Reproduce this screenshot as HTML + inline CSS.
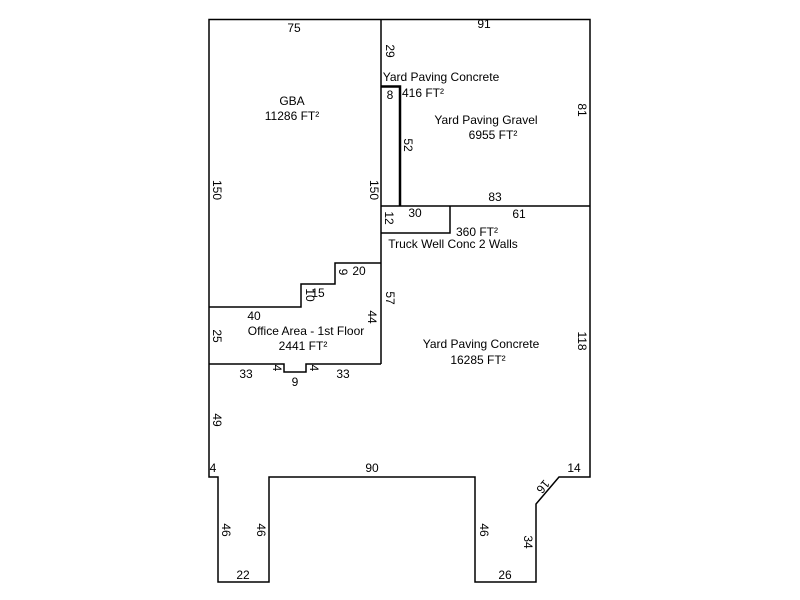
<!DOCTYPE html>
<html><head><style>html,body{margin:0;padding:0;background:#fff}svg{display:block}text{font-family:"Liberation Sans",Arial,sans-serif;font-size:12px;fill:#000}</style></head><body>
<svg width="800" height="600" viewBox="0 0 800 600" xmlns="http://www.w3.org/2000/svg">
<g fill="none" stroke="#000" stroke-width="1.5">
<polygon points="209,19.5 590,19.5 590,477 559,477 536,504 536,582 475,582 475,477 269,477 269,582 218,582 218,477 209,477"/>
<line x1="381" y1="19" x2="381" y2="364"/>
<line x1="381" y1="206" x2="590" y2="206"/>
<polyline points="450,206 450,233 381,233"/>
<polyline points="209,307 301,307 301,284 335,284 335,263 381,263"/>
<polyline points="209,364 284,364 284,372 306,372 306,364 381,364"/>
</g>
<polyline points="381,86.5 400,86.5 400,206" fill="none" stroke="#000" stroke-width="2.5"/>
<g text-anchor="middle">
<text x="294" y="32">75</text>
<text x="484" y="28">91</text>
<text x="292" y="105">GBA</text>
<text x="292" y="120">11286 FT²</text>
<text x="441" y="81">Yard Paving Concrete</text>
<text x="423" y="97">416 FT²</text>
<text x="390" y="99">8</text>
<text x="486" y="124">Yard Paving Gravel</text>
<text x="493" y="139">6955 FT²</text>
<text x="495" y="201">83</text>
<text x="415" y="217">30</text>
<text x="519" y="218">61</text>
<text x="477" y="236">360 FT²</text>
<text x="453" y="248">Truck Well Conc 2 Walls</text>
<text x="359" y="275">20</text>
<text x="318" y="297">15</text>
<text x="254" y="320">40</text>
<text x="306" y="335">Office Area - 1st Floor</text>
<text x="303" y="350">2441 FT²</text>
<text x="481" y="348">Yard Paving Concrete</text>
<text x="478" y="364">16285 FT²</text>
<text x="246" y="378">33</text>
<text x="343" y="378">33</text>
<text x="295" y="386">9</text>
<text x="213" y="472">4</text>
<text x="372" y="472">90</text>
<text x="574" y="472">14</text>
<text x="243" y="579">22</text>
<text x="505" y="579">26</text>
</g>
<g text-anchor="middle">
<text transform="translate(213,190) rotate(90)">150</text>
<text transform="translate(370,190) rotate(90)">150</text>
<text transform="translate(386,51) rotate(90)">29</text>
<text transform="translate(404,145) rotate(90)">52</text>
<text transform="translate(578,110) rotate(90)">81</text>
<text transform="translate(385,218) rotate(90)">12</text>
<text transform="translate(339,272) rotate(90)">9</text>
<text transform="translate(306,295) rotate(90)">10</text>
<text transform="translate(368,317) rotate(90)">44</text>
<text transform="translate(386,298) rotate(90)">57</text>
<text transform="translate(213,336) rotate(90)">25</text>
<text transform="translate(578,341) rotate(90)">118</text>
<text transform="translate(273,368) rotate(90)">4</text>
<text transform="translate(310,368) rotate(90)">4</text>
<text transform="translate(213,420) rotate(90)">49</text>
<text transform="translate(222,530) rotate(90)">46</text>
<text transform="translate(257,530) rotate(90)">46</text>
<text transform="translate(480,530) rotate(90)">46</text>
<text transform="translate(524,542) rotate(90)">34</text>
<text transform="translate(540,484) rotate(130)">16</text>
</g>
</svg>
</body></html>
